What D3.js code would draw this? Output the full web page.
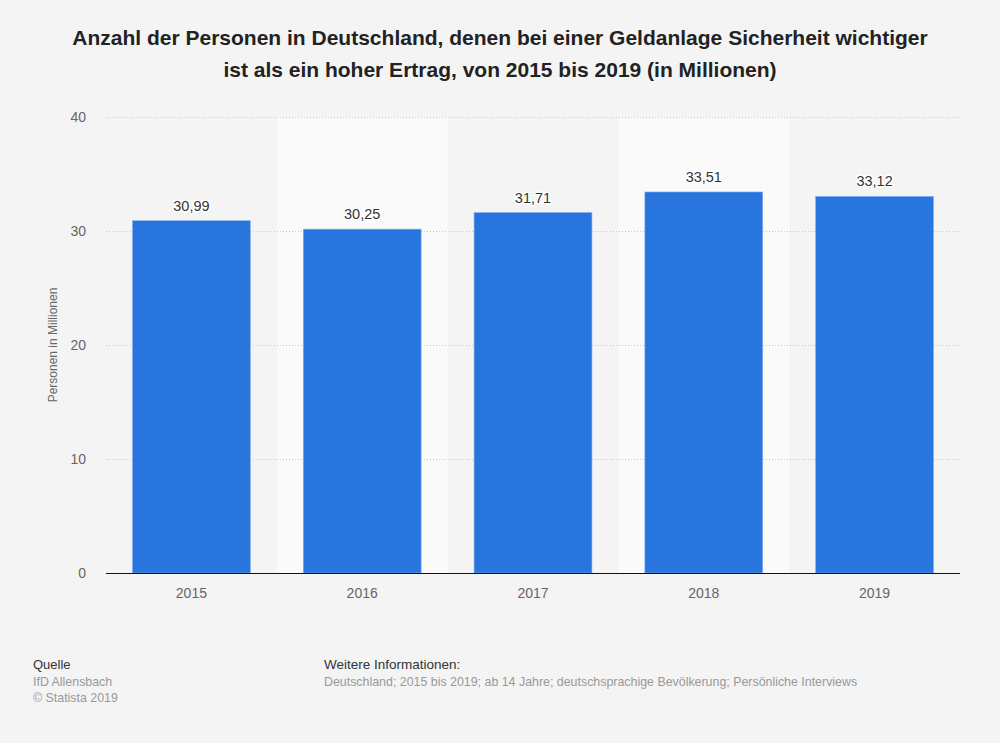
<!DOCTYPE html>
<html><head><meta charset="utf-8">
<script src="https://cdn.jsdelivr.net/npm/d3@7"></script>
<style>
html,body{margin:0;padding:0;background:#f4f4f4;}
svg{display:block;font-family:"Liberation Sans",Arial,sans-serif;}
</style></head>
<body><svg id="c" width="1000" height="743"></svg>
<script>
const categories = ["2015","2016","2017","2018","2019"];
const values = [30.99, 30.25, 31.71, 33.51, 33.12];
const valueLabels = ["30,99","30,25","31,71","33,51","33,12"];
const yTicks = [0,10,20,30,40];
const titleLines = ["Anzahl der Personen in Deutschland, denen bei einer Geldanlage Sicherheit wichtiger","ist als ein hoher Ertrag, von 2015 bis 2019 (in Millionen)"];

const svg = d3.select("#c");
const m = {left:106, right:960, top:117, bottom:573};

svg.append("rect").attr("width",1000).attr("height",743).attr("fill","#f4f4f4");

const x = d3.scaleBand().domain(categories).range([m.left, m.right]).paddingInner(0.31).paddingOuter(0.155);
const xb = d3.scaleBand().domain(categories).range([m.left, m.right]).padding(0);
const y = d3.scaleLinear().domain([0,40]).range([m.bottom, m.top]);

// alternating bands
svg.append("g").selectAll("rect").data(categories.filter((d,i)=>i%2===1)).join("rect")
  .attr("x", d=>xb(d)).attr("width", xb.bandwidth())
  .attr("y", m.top).attr("height", m.bottom-m.top).attr("fill","#fafafa");

// grid
svg.append("g").selectAll("line").data(yTicks.filter(t=>t>0)).join("line")
  .attr("x1", m.left).attr("x2", m.right).attr("y1", d=>y(d)+0.5).attr("y2", d=>y(d)+0.5)
  .attr("stroke","#c8c8c8").attr("stroke-dasharray","1,2").attr("stroke-width",1);

// y tick labels
svg.append("g").selectAll("text").data(yTicks).join("text")
  .attr("x", 86).attr("y", d=>y(d)+5).attr("text-anchor","end")
  .attr("font-size",14).attr("fill","#666").text(d=>d);

// y title
svg.append("text").attr("transform",`translate(57,${(m.top+m.bottom)/2}) rotate(-90)`)
  .attr("text-anchor","middle").attr("font-size",12).attr("fill","#666").text("Personen in Millionen");

// bars
svg.append("g").selectAll("rect").data(values).join("rect")
  .attr("x",(d,i)=>x(categories[i])).attr("width", x.bandwidth())
  .attr("y", d=>y(d)+1).attr("height", d=>y(0)-y(d)-1)
  .attr("fill","#2876dd").attr("stroke","#7fb0ee").attr("stroke-width",0.6);

// value labels
svg.append("g").selectAll("text").data(values).join("text")
  .attr("x",(d,i)=>x(categories[i])+x.bandwidth()/2).attr("y", d=>y(d)-9)
  .attr("text-anchor","middle").attr("font-size",14.5).attr("fill","#333")
  .attr("stroke","#fff").attr("stroke-width",3).attr("paint-order","stroke").attr("stroke-linejoin","round")
  .text((d,i)=>valueLabels[i]);

// baseline
svg.append("line").attr("x1",m.left).attr("x2",m.right).attr("y1",m.bottom+0.5).attr("y2",m.bottom+0.5)
  .attr("stroke","#111").attr("stroke-width",1.2);

// x labels
svg.append("g").selectAll("text").data(categories).join("text")
  .attr("x", d=>x(d)+x.bandwidth()/2).attr("y", 598).attr("text-anchor","middle")
  .attr("font-size",14).attr("fill","#666").text(d=>d);

// title
svg.append("g").selectAll("text").data(titleLines).join("text")
  .attr("x",500).attr("y",(d,i)=>45+i*32).attr("text-anchor","middle")
  .attr("font-size",21).attr("font-weight","bold").attr("fill","#222").text(d=>d);

// footer
const f = svg.append("g");
f.append("text").attr("x",33).attr("y",669).attr("fill","#333").attr("font-size",13).text("Quelle");
f.append("text").attr("x",33).attr("y",686).attr("fill","#999").attr("font-size",12.4).text("IfD Allensbach");
f.append("text").attr("x",33).attr("y",702).attr("fill","#999").attr("font-size",12.4).text("© Statista 2019");
f.append("text").attr("x",324).attr("y",669).attr("fill","#333").attr("font-size",13.5).text("Weitere Informationen:");
f.append("text").attr("x",324).attr("y",686).attr("fill","#999").attr("font-size",12.4).text("Deutschland; 2015 bis 2019; ab 14 Jahre; deutschsprachige Bevölkerung; Persönliche Interviews");
</script></body></html>
